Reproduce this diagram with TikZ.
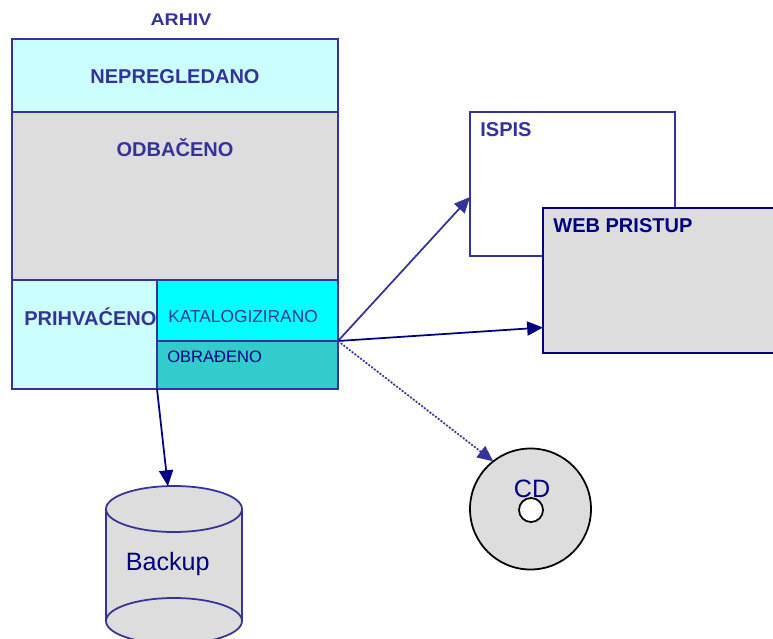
\documentclass[tikz,border=0pt]{standalone}
\usepackage{fontspec}
\setmainfont{Liberation Sans}
\usetikzlibrary{arrows.meta,calc,shapes.geometric}
\definecolor{archline}{HTML}{333399}
\definecolor{navy}{HTML}{000080}
\definecolor{panelgrey}{HTML}{DDDDDD}
\definecolor{palecyan}{HTML}{CCFFFF}
\definecolor{purecyan}{HTML}{00FFFF}
\definecolor{tealcyan}{HTML}{33CCCC}
\tikzset{
	panel/.style={draw=archline, line width=1pt, inner sep=0pt, outer sep=0pt},
	disk/.style={ellipse, panel, fill=panelgrey, minimum width=136*0.02cm, minimum height=46*0.02cm},
	bigtitle/.style={font=\fontsize{11.4}{14}\selectfont\bfseries, text=archline, inner sep=0pt},
	smalltitle/.style={font=\fontsize{9.4}{12}\selectfont, inner sep=0pt},
	plaintitle/.style={font=\fontsize{14.3}{16}\selectfont, text=navy, inner sep=0pt},
	flow/.style={-{Triangle[length=9pt,width=8pt]}, line width=1pt},
}
\def\panelat[#1](#2)(#3,#4)(#5,#6){\node[panel,#1,minimum width=(#5-#3)*0.02cm,minimum height=(#6-#4)*0.02cm] (#2) at ({(#3+#5)/2},{(#4+#6)/2}) {};}

\begin{document}
\begin{tikzpicture}[x=0.02cm,y=-0.02cm]
	\useasboundingbox (0,0) rectangle (773,638);
	\clip (0,0) rectangle (773,638);
	
	%%%%% archive %%%%%
	\node[font=\fontsize{9.6}{11}\selectfont\bfseries, text=archline, inner sep=0pt, xscale=1.16, transform shape] (arhiv) at (181,19.500) {ARHIV};
	\panelat[fill=palecyan](nepregledano)(12,39)(338,112)
	\panelat[fill=panelgrey](odbaceno)(12,112)(338,280)
	\panelat[fill=palecyan](prihvaceno)(12,280)(157,389)
	\panelat[fill=purecyan](katalogizirano)(157,280)(338,341)
	\panelat[fill=tealcyan](obradeno)(157,341)(338,389)
	
	\node[bigtitle] (nepregledanotext) at (175,77) {NEPREGLEDANO};
	\node[bigtitle] (odbacenotext) at (175,148) {ODBAČENO};
	\node[bigtitle, anchor=west] (prihvacenotext) at (24,317) {PRIHVAĆENO};
	\node[smalltitle, font=\fontsize{9.85}{12}\selectfont, text=archline, anchor=west] (katalogiziranotext) at (168,317) {KATALOGIZIRANO};
	\node[smalltitle, text=navy, anchor=west] (obradenotext) at (167,357) {OBRAĐENO};
	
	%%%%% outputs %%%%%
	\panelat[fill=white](ispis)(470,112)(675,256)
	\panelat[fill=panelgrey, draw=navy](webpristup)(543,208)(800,353)
	\node[bigtitle, anchor=west] (ispistext) at (480,130) {ISPIS};
	\node[bigtitle, text=navy, anchor=west] (webtext) at (553,226) {WEB PRISTUP};
	
	%%%%% cd %%%%%
	\node[circle, draw=black, line width=1pt, fill=panelgrey, minimum size=121*0.02cm, inner sep=0pt, outer sep=0pt] (cd) at (530.500,509) {};
	\node[plaintitle] (cdtext) at (532,489) {CD};
	\node[circle, draw=black, line width=1pt, fill=white, minimum size=24*0.02cm, inner sep=0pt, outer sep=0pt] (cdhole) at (531,510) {};
	
	%%%%% backup %%%%%
	\fill[panelgrey] (106,509) rectangle (242,620);
	\node[disk] (backupbottom) at (174,621) {};
	\node[disk] (backuptop) at (174,509) {};
	\draw[panel] (backuptop.west) -- (backupbottom.west);
	\draw[panel] (backuptop.east) -- (backupbottom.east);
	\node[plaintitle, anchor=west] (backuptext) at (125.500,564) {Backup};
	
	%%%%% arrows %%%%%
	\draw[flow, draw=archline, fill=archline] (katalogizirano.south east) -- ($(ispis.west)+(0,13)$);
	\draw[flow, draw=navy, fill=navy] (katalogizirano.south east) -- ($(webpristup.west)+(0,47)$);
	\draw[flow, draw=archline, fill=archline, densely dotted] (katalogizirano.south east) -- (cd.128);
	\draw[flow, draw=navy, fill=navy] (prihvaceno.south east) -- (backuptop.105);
\end{tikzpicture}
\end{document}
